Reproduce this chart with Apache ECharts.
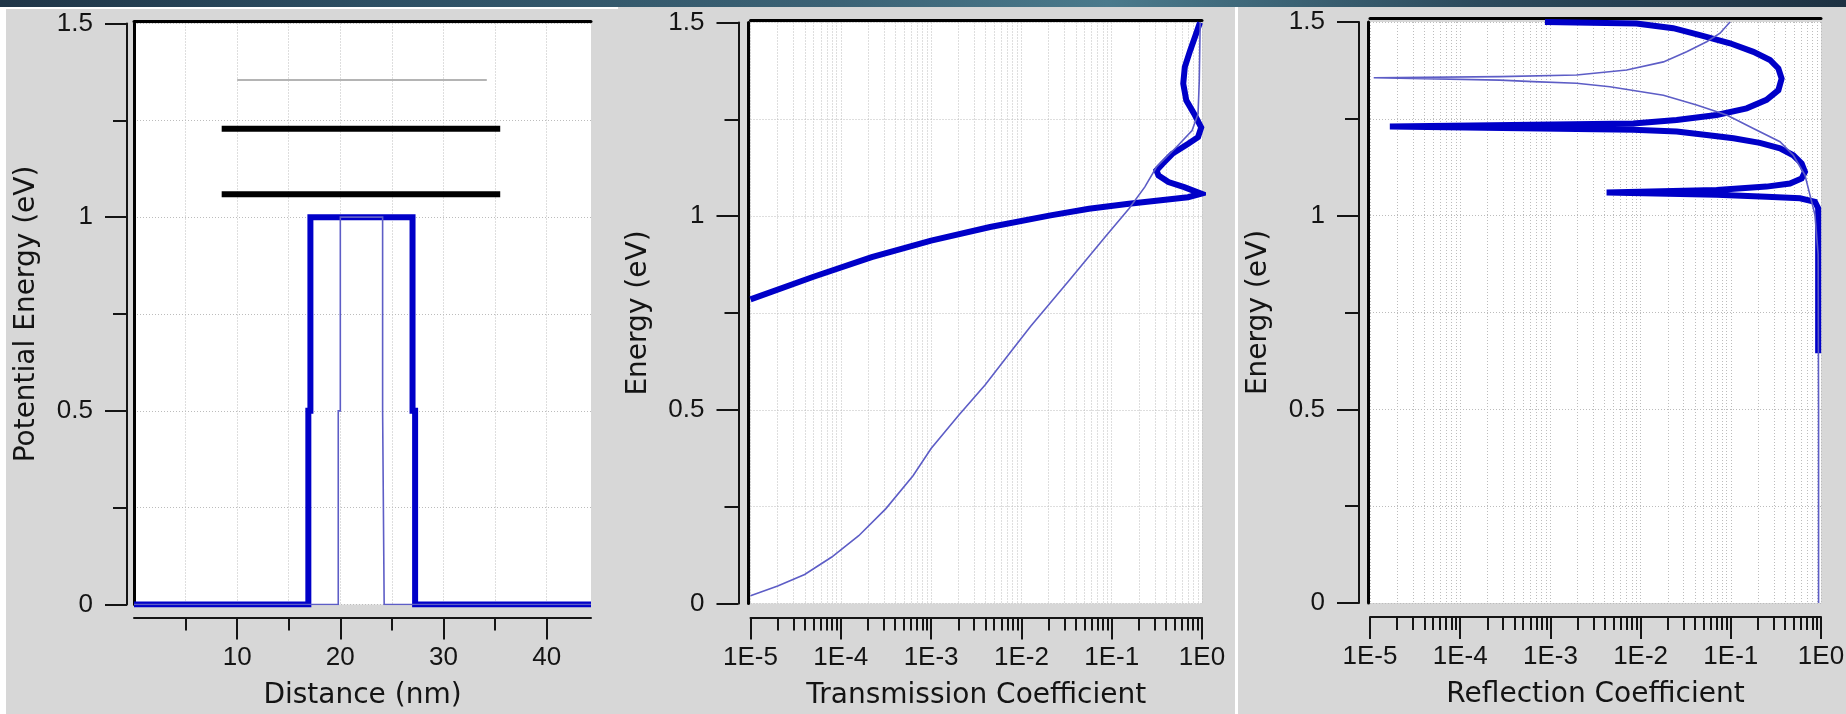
<!DOCTYPE html>
<html><head><meta charset="utf-8">
<script src="https://cdn.jsdelivr.net/npm/echarts@6/dist/echarts.min.js"></script>
<style>
html,body{margin:0;padding:0;width:1846px;height:714px;overflow:hidden;background:#d7d7d7;}
#banner{position:absolute;left:0;top:0;width:1846px;height:7px;background:linear-gradient(90deg,#1f3547 0%,#2d4f63 20%,#3b6275 45%,#4a7a8c 60%,#2c4a5c 80%,#1d3142 100%);}
#wl{position:absolute;left:0;top:7px;width:6px;height:707px;background:#fff;}
#wt{position:absolute;left:0;top:7px;width:618px;height:2px;background:#fff;}
#wd{position:absolute;left:1235px;top:7px;width:3px;height:707px;background:#fff;}
#chart{position:absolute;left:0;top:0;width:1846px;height:714px;}
</style></head><body>
<div id="banner"></div><div id="wl"></div><div id="wt"></div><div id="wd"></div>
<div id="chart"></div>
<script>
// ---------- tick labels / categories ----------
const distanceMajorTicks = [10, 20, 30, 40];
const distanceMinorTicks = [5, 15, 25, 35];
const coefficientDecades = [1e-5, 1e-4, 1e-3, 1e-2, 1e-1, 1];
const coefficientLabels = ['1E-5', '1E-4', '1E-3', '1E-2', '1E-1', '1E0'];
const minorMultipliers = [2, 3, 4, 5, 6, 7, 8, 9];

// ---------- panel 1: potential profile ----------
const outerBarrierX = [0, 16.9, 16.9, 17.1, 17.1, 27.0, 27.0, 27.25, 27.25, 44.3];
const outerBarrierE = [0, 0, 0.5, 0.5, 1.0, 1.0, 0.5, 0.5, 0, 0];
const innerBarrierX = [0, 19.8, 19.8, 20.0, 20.0, 24.1, 24.1, 24.25, 24.25, 44.3];
const innerBarrierE = [0, 0, 0.5, 0.5, 1.0, 1.0, 0.5, 0.5, 0, 0];
const boundStateEnergies = [1.059, 1.228];
const boundStateSpan = [8.5, 35.5];
const resonanceEnergies = [1.354];
const resonanceSpan = [10, 34.2];

// ---------- panel 2: transmission ----------
const transThickT = [1.0e-5, 4.9e-5, 2.2e-4, 1.0e-3, 4.5e-3, 2.1e-2, 5.6e-2, 0.155, 0.35, 0.70, 0.98, 0.635, 0.425, 0.33, 0.313, 0.365, 0.469, 0.703, 0.904, 0.98, 0.82, 0.67, 0.62, 0.645, 0.74, 0.86, 0.95];
const transThickE = [0.785, 0.843, 0.894, 0.937, 0.972, 1.002, 1.019, 1.032, 1.041, 1.049, 1.058, 1.075, 1.088, 1.105, 1.118, 1.135, 1.161, 1.187, 1.204, 1.229, 1.264, 1.299, 1.342, 1.385, 1.428, 1.471, 1.5];
const transThinT = [1.0e-5, 2.0e-5, 3.98e-5, 7.94e-5, 1.58e-4, 3.16e-4, 6.31e-4, 1.0e-3, 2.0e-3, 3.98e-3, 7.94e-3, 1.26e-2, 3.41e-2, 8.45e-2, 0.155, 0.232, 0.313, 0.519, 0.776, 0.904, 0.933, 0.955];
const transThinE = [0.02, 0.045, 0.075, 0.12, 0.175, 0.245, 0.33, 0.40, 0.485, 0.565, 0.655, 0.715, 0.835, 0.946, 1.019, 1.075, 1.127, 1.178, 1.221, 1.264, 1.35, 1.5];

// ---------- panel 3: reflection ----------
const reflThickR = [8.7e-4, 9.0e-3, 2.3e-2, 4.55e-2, 9.8e-2, 0.178, 0.272, 0.337, 0.366, 0.337, 0.249, 0.150, 6.97e-2, 2.51e-2, 8.3e-3, 1.66e-5, 8.3e-3, 2.51e-2, 5.4e-2, 0.107, 0.21, 0.351, 0.493, 0.61, 0.664, 0.61, 0.453, 0.249, 6.97e-2, 4.2e-3, 6.97e-2, 0.249, 0.585, 0.857, 0.93, 0.93, 0.93];
const reflThickE = [1.5, 1.496, 1.484, 1.466, 1.445, 1.423, 1.402, 1.38, 1.354, 1.324, 1.299, 1.277, 1.26, 1.247, 1.238, 1.23, 1.222, 1.217, 1.208, 1.2, 1.188, 1.174, 1.156, 1.135, 1.113, 1.096, 1.083, 1.075, 1.066, 1.06, 1.054, 1.049, 1.045, 1.036, 1.019, 0.9, 0.645];
const reflThinR = [0.098, 0.076, 0.054, 0.0324, 0.0179, 7.0e-3, 1.95e-3, 2.76e-4, 1.1e-5, 2.76e-4, 6.46e-4, 1.95e-3, 4.57e-3, 0.0179, 0.0418, 0.09, 0.178, 0.351, 0.493, 0.664, 0.755, 0.857, 0.93, 0.94, 0.94];
const reflThinE = [1.5, 1.471, 1.449, 1.423, 1.397, 1.376, 1.363, 1.359, 1.356, 1.350, 1.346, 1.342, 1.333, 1.311, 1.286, 1.26, 1.225, 1.191, 1.156, 1.105, 1.053, 1.002, 0.9, 0.5, 0.0];

// ---------- helpers ----------
const pairs = (xs, ys) => xs.map((x, i) => [x, ys[i]]);
const logMinorTicks = [];
coefficientDecades.slice(0, -1).forEach(d => minorMultipliers.forEach(m => logMinorTicks.push(+(d * m).toPrecision(3))));
const coefLabel = v => {
  let best = 0, bd = Infinity;
  coefficientDecades.forEach((d, i) => { const dd = Math.abs(Math.log10(v) - Math.log10(d)); if (dd < bd) { bd = dd; best = i; } });
  return coefficientLabels[best];
};

const INK = '#141414';
const TICK_FONT = { fontFamily: "'Liberation Sans', Arial, sans-serif", fontSize: 26, color: INK };
const NAME_FONT = { fontFamily: "'DejaVu Sans', sans-serif", fontSize: 28, color: INK };
const GRID_LINE = { show: true, lineStyle: { color: '#bcbcbc', type: [1, 2], width: 1 } };
const AXIS_LINE = { show: true, onZero: false, lineStyle: { color: INK, width: 2 } };
const FRAME_LINE = { show: true, onZero: false, lineStyle: { color: '#000', width: 3 } };
const NONE = { show: false };

const grids = [
  { left: 134, top: 23.5, width: 457, height: 581 },
  { left: 750.5, top: 22.5, width: 451.5, height: 581 },
  { left: 1370, top: 22, width: 451, height: 581 }
].map(g => Object.assign({ show: true, backgroundColor: '#ffffff', borderWidth: 0, containLabel: false, outerBoundsMode: 'none' }, g));

const xAxes = [];
const yAxes = [];

function addPanel(gi, xCfg, yOff, frameOff, topOff, yName, xName) {
  const base = xCfg.base;
  // main x axis
  xAxes.push(Object.assign({}, base, {
    gridIndex: gi, position: 'bottom', offset: xCfg.offset,
    axisLine: AXIS_LINE,
    axisTick: { show: true, inside: false, length: 22, lineStyle: { color: INK, width: 2 }, customValues: xCfg.major },
    axisLabel: Object.assign({ show: true, margin: 27, customValues: xCfg.major, formatter: xCfg.fmt }, TICK_FONT),
    splitLine: GRID_LINE, minorTick: NONE, minorSplitLine: NONE,
    name: xName, nameLocation: 'middle', nameGap: 64, nameTextStyle: NAME_FONT
  }));
  // minor ticks x axis
  xAxes.push(Object.assign({}, base, {
    gridIndex: gi, position: 'bottom', offset: xCfg.offset,
    axisLine: { show: false, onZero: false },
    axisTick: { show: true, inside: false, length: 13, lineStyle: { color: INK, width: 2 }, customValues: xCfg.minor },
    axisLabel: { show: false, customValues: xCfg.minor },
    splitLine: GRID_LINE
  }));
  // top frame
  xAxes.push(Object.assign({}, base, {
    gridIndex: gi, position: 'top', offset: topOff,
    axisLine: FRAME_LINE, axisTick: NONE, axisLabel: NONE, splitLine: NONE
  }));
  // main y axis
  yAxes.push({
    gridIndex: gi, type: 'value', min: 0, max: 1.5, interval: 0.5, position: 'left', offset: yOff,
    axisLine: AXIS_LINE,
    axisTick: { show: true, inside: false, length: 22, lineStyle: { color: INK, width: 2 } },
    minorTick: { show: true, splitNumber: 2, length: 14, lineStyle: { color: INK, width: 2 } },
    axisLabel: Object.assign({ show: true, margin: 34, formatter: v => String(v) }, TICK_FONT),
    splitLine: GRID_LINE,
    minorSplitLine: GRID_LINE,
    name: yName, nameLocation: 'middle', nameRotate: 90, nameGap: 86, nameTextStyle: NAME_FONT
  });
  // left frame
  yAxes.push({
    gridIndex: gi, type: 'value', min: 0, max: 1.5, position: 'left', offset: frameOff,
    axisLine: FRAME_LINE, axisTick: NONE, axisLabel: NONE, splitLine: NONE
  });
}

addPanel(0, { base: { type: 'value', min: 0, max: 44.3 }, offset: 13, major: distanceMajorTicks, minor: distanceMinorTicks, fmt: v => String(v) },
  7, 0, 2, 'Potential Energy (eV)', 'Distance (nm)');
addPanel(1, { base: { type: 'log', logBase: 10, min: 1e-5, max: 1 }, offset: 14, major: coefficientDecades, minor: logMinorTicks, fmt: coefLabel },
  12, 2, 2, 'Energy (eV)', 'Transmission Coefficient');
addPanel(2, { base: { type: 'log', logBase: 10, min: 1e-5, max: 1 }, offset: 14, major: coefficientDecades, minor: logMinorTicks, fmt: coefLabel },
  11, 2, 4, 'Energy (eV)', 'Reflection Coefficient');

const THICK = '#0000c8';
const THIN = '#5d5dc6';
function line(xi, yi, data, color, width, z) {
  return { type: 'line', xAxisIndex: xi, yAxisIndex: yi, data: data, symbol: 'none', showSymbol: false,
    smooth: false, clip: true, z: z || 2, silent: true,
    lineStyle: { color: color, width: width, cap: 'butt', join: 'miter' } };
}

const series = [];
// panel 1
series.push(line(0, 0, pairs(outerBarrierX, outerBarrierE), THICK, 6, 3));
series.push(line(0, 0, pairs(innerBarrierX, innerBarrierE), THIN, 1.6, 4));
boundStateEnergies.forEach(e => series.push(line(0, 0, boundStateSpan.map(x => [x, e]), '#000000', 6, 5)));
resonanceEnergies.forEach(e => series.push(line(0, 0, resonanceSpan.map(x => [x, e]), '#b4b4b4', 2, 5)));
// panel 2
series.push(line(3, 2, pairs(transThickT, transThickE), THICK, 6, 3));
series.push(line(3, 2, pairs(transThinT, transThinE), THIN, 1.6, 4));
// panel 3
series.push(line(6, 4, pairs(reflThickR, reflThickE), THICK, 6, 3));
series.push(line(6, 4, pairs(reflThinR, reflThinE), THIN, 1.6, 4));

const chart = echarts.init(document.getElementById('chart'));
chart.setOption({
  animation: false,
  backgroundColor: 'transparent',
  grid: grids,
  xAxis: xAxes,
  yAxis: yAxes,
  series: series
});
</script></body></html>
